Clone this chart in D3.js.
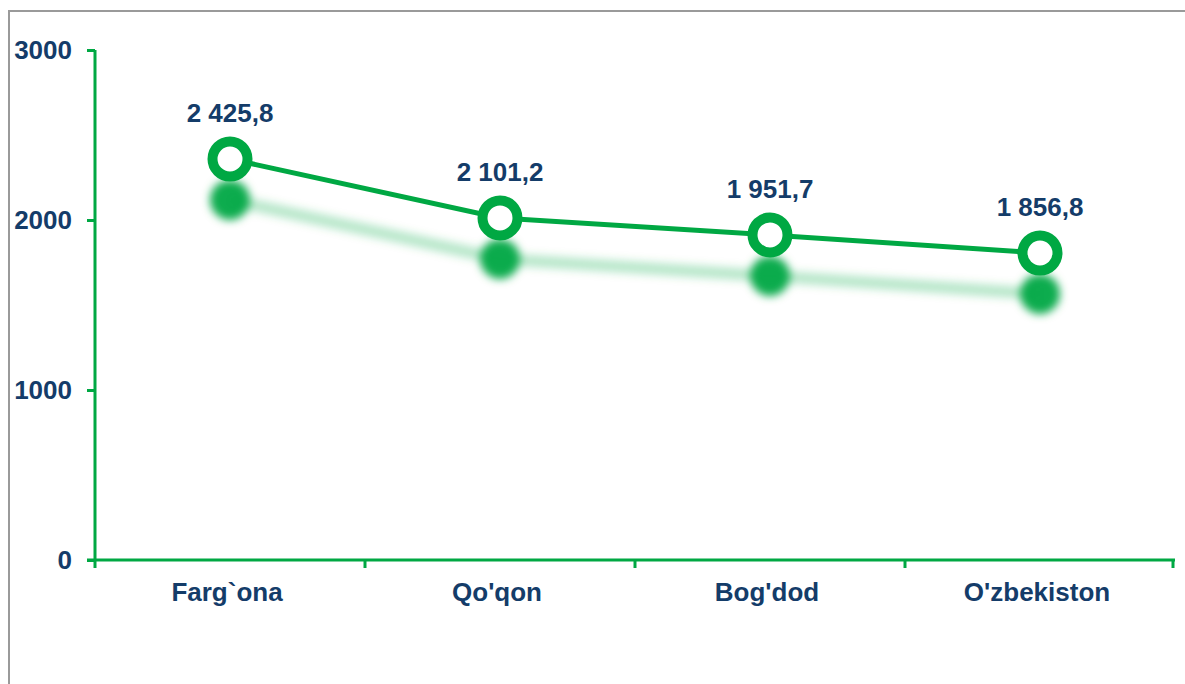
<!DOCTYPE html>
<html>
<head>
<meta charset="utf-8">
<script src="https://cdn.jsdelivr.net/npm/d3@7"></script>
<style>
  html, body { margin: 0; padding: 0; background: #fff; }
  svg { display: block; }
</style>
</head>
<body>
<svg id="chart" width="1185" height="684"></svg>
<script>
const categories = ["Farg`ona", "Qo'qon", "Bog'dod", "O'zbekiston"];
const values = [2359, 2012, 1912, 1806];          // plotted positions
const valueLabels = ["2 425,8", "2 101,2", "1 951,7", "1 856,8"];
const yTicks = [0, 1000, 2000, 3000];

const green = "#00a843";
const navy = "#143c69";
const font = "'Liberation Sans', Arial, sans-serif";

const svg = d3.select("#chart");
const defs = svg.append("defs");
const f = defs.append("filter").attr("id", "blur").attr("x", "-20%").attr("y", "-50%").attr("width", "140%").attr("height", "200%");
f.append("feGaussianBlur").attr("stdDeviation", 4);

// frame
svg.append("rect").attr("x", 9).attr("y", 11).attr("width", 1200).attr("height", 700)
  .attr("fill", "none").attr("stroke", "#9a9a9a").attr("stroke-width", 2);

const x = d3.scaleBand().domain(categories).range([95, 1175]);
const y = d3.scaleLinear().domain([0, 3000]).range([560, 50]);
const cx = d => x(d) + x.bandwidth() / 2;

// y axis
const yAxis = svg.append("g").attr("transform", "translate(95,0)")
  .call(d3.axisLeft(y).tickValues(yTicks).tickSize(8).tickPadding(15).tickFormat(d3.format("d")));
yAxis.select(".domain").attr("stroke", green).attr("stroke-width", 3).attr("d", "M0,560V50");
yAxis.selectAll(".tick line").attr("stroke", green).attr("stroke-width", 3);
yAxis.selectAll(".tick text").attr("fill", navy).attr("font-family", font)
  .attr("font-weight", "bold").attr("font-size", 26);

// x axis
const xAxis = svg.append("g").attr("transform", "translate(0,560)")
  .call(d3.axisBottom(x).tickSize(0).tickPadding(23));
xAxis.select(".domain").attr("stroke", green).attr("stroke-width", 3).attr("d", "M87,0H1175");
xAxis.selectAll(".tick text").attr("fill", navy).attr("font-family", font)
  .attr("font-weight", "bold").attr("font-size", 26).attr("dx", -3);
// boundary ticks between categories
const bounds = categories.map(c => x(c)).concat([x.range()[1] - 2]);
xAxis.selectAll("line.bt").data(bounds).enter().append("line").attr("class", "bt")
  .attr("x1", d => d).attr("x2", d => d).attr("y1", 0).attr("y2", 8)
  .attr("stroke", green).attr("stroke-width", 3);

const data = categories.map((c, i) => ({c, v: values[i], l: valueLabels[i]}));
const line = d3.line().x(d => cx(d.c)).y(d => y(d.v));

// shadow
const sh = svg.append("g").attr("transform", "translate(0,41)").attr("filter", "url(#blur)");
sh.append("path").datum(data).attr("d", line).attr("fill", "none")
  .attr("stroke", green).attr("stroke-opacity", 0.28).attr("stroke-width", 12);
sh.selectAll("circle").data(data).enter().append("circle")
  .attr("cx", d => cx(d.c)).attr("cy", d => y(d.v)).attr("r", 20)
  .attr("fill", green).attr("fill-opacity", 0.95);

// main line
svg.append("path").datum(data).attr("d", line).attr("fill", "none")
  .attr("stroke", green).attr("stroke-width", 5);
svg.selectAll("circle.m").data(data).enter().append("circle").attr("class", "m")
  .attr("cx", d => cx(d.c)).attr("cy", d => y(d.v)).attr("r", 17.5)
  .attr("fill", "#fff").attr("stroke", green).attr("stroke-width", 10);

// labels
svg.selectAll("text.vl").data(data).enter().append("text").attr("class", "vl")
  .attr("x", d => cx(d.c)).attr("y", d => y(d.v) - 37)
  .attr("text-anchor", "middle").attr("fill", navy).attr("font-family", font)
  .attr("font-weight", "bold").attr("font-size", 26).text(d => d.l);
</script>
</body>
</html>
